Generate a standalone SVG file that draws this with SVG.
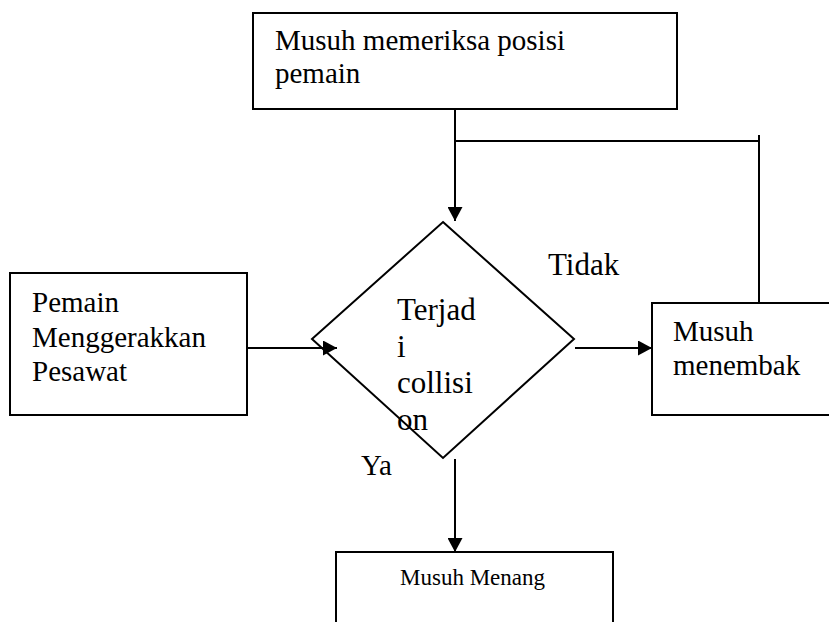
<svg xmlns="http://www.w3.org/2000/svg" width="829" height="622" viewBox="0 0 829 622">
<style>
.box{fill:#fff;stroke:#000;stroke-width:2}
.ln{fill:none;stroke:#000;stroke-width:2}
text{font-family:"Liberation Serif","Times New Roman",serif;fill:#000}
.t29{font-size:29px}
.t31{font-size:31px}
.t23{font-size:23px}
</style>
<defs>
<marker id="arr" viewBox="0 0 14 15" refX="14" refY="7.5" markerWidth="14" markerHeight="15" markerUnits="userSpaceOnUse" orient="auto">
<path d="M0,0 L14,7.5 L0,15 Z" fill="#000"/>
</marker>
</defs>
<rect width="829" height="622" fill="#fff"/>
<g id="top">
<rect class="box" x="253" y="13" width="424" height="96"/>
<text class="t29" x="275" y="50">Musuh memeriksa posisi</text>
<text class="t29" x="275" y="83">pemain</text>
</g>
<g id="left">
<rect class="box" x="10" y="273" width="237" height="142"/>
<text class="t29" x="32" y="312">Pemain</text>
<text class="t29" x="32" y="347">Menggerakkan</text>
<text class="t29" x="32" y="381">Pesawat</text>
</g>
<g id="decision">
<polygon class="box" points="443,222 574,339 443,458 312,339"/>
<text class="t31" x="397" y="320">Terjad</text>
<text class="t31" x="397" y="357">i</text>
<text class="t31" x="397" y="393">collisi</text>
<text class="t31" x="397" y="430">on</text>
</g>
<g id="right">
<rect class="box" x="652" y="303" width="190" height="112"/>
<text class="t29" x="673" y="341">Musuh</text>
<text class="t29" x="673" y="375">menembak</text>
</g>
<g id="bottom">
<rect class="box" x="336" y="552" width="277" height="90"/>
<text class="t23" x="400" y="585">Musuh Menang</text>
</g>
<g id="labels">
<text class="t31" x="548" y="275">Tidak</text>
<text class="t29" x="361" y="475">Ya</text>
</g>
<g id="connectors">
<line class="ln" x1="455" y1="109" x2="455" y2="221" marker-end="url(#arr)"/>
<polyline class="ln" points="455,141 759,141"/>
<line class="ln" x1="759" y1="135" x2="759" y2="303"/>
<line class="ln" x1="247" y1="348" x2="337" y2="348" marker-end="url(#arr)"/>
<line class="ln" x1="575" y1="348" x2="652" y2="348" marker-end="url(#arr)"/>
<line class="ln" x1="455" y1="459" x2="455" y2="552" marker-end="url(#arr)"/>
</g>
</svg>
